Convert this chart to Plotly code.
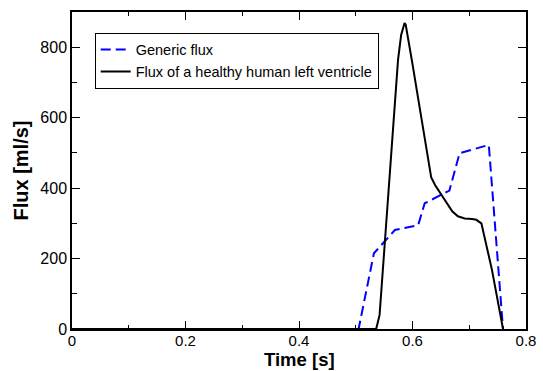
import plotly.graph_objects as go

# Generic flux (blue dashed)
generic_t = [0.0, 0.505, 0.532, 0.569, 0.610, 0.6215, 0.665, 0.683, 0.733, 0.7345, 0.7595]
generic_q = [0, 0, 215, 281, 295, 357, 393, 499, 522, 522, 0]

# Flux of a healthy human left ventricle (black solid)
healthy_t = [0.0, 0.536, 0.542, 0.560, 0.5745, 0.580, 0.584, 0.586, 0.588, 0.592,
             0.600, 0.610, 0.620, 0.633, 0.640, 0.650, 0.660, 0.670, 0.680,
             0.692, 0.705, 0.7125, 0.7214, 0.740, 0.7595]
healthy_q = [0, 0, 40, 440, 764, 835, 862, 869, 864, 830,
             752, 654, 557, 430, 408, 383, 356, 334, 320,
             314, 312, 310, 300, 168, 0]

x_ticks = [0, 0.2, 0.4, 0.6, 0.8]
x_labels = ["0", "0.2", "0.4", "0.6", "0.8"]
y_ticks = [0, 200, 400, 600, 800]
y_labels = ["0", "200", "400", "600", "800"]

FONT = "Liberation Sans, Arial, Helvetica, sans-serif"

fig = go.Figure()
fig.add_trace(go.Scatter(x=generic_t, y=generic_q, mode="lines", name="Generic flux",
                         line=dict(color="#0000ff", width=2, dash="10px,5px")))
fig.add_trace(go.Scatter(x=healthy_t, y=healthy_q, mode="lines",
                         name="Flux of a healthy human left ventricle",
                         line=dict(color="black", width=2)))

axis_common = dict(showline=True, linecolor="black", linewidth=1.5, mirror="allticks",
                   ticks="inside", ticklen=8, tickwidth=1, tickcolor="black",
                   showgrid=False, zeroline=False)

fig.update_xaxes(range=[0, 0.8], tickvals=x_ticks, ticktext=x_labels,
                 tickfont=dict(family=FONT, size=15, color="black"),
                 ticklabelstandoff=-3,
                 minor=dict(dtick=0.1, ticks="inside", ticklen=4, tickcolor="black", tickwidth=1),
                 **axis_common)
fig.update_yaxes(range=[0, 900], tickvals=y_ticks, ticktext=y_labels,
                 tickfont=dict(family=FONT, size=16, color="black"),
                 minor=dict(dtick=100, ticks="inside", ticklen=5, tickcolor="black", tickwidth=1),
                 title=dict(text="<b>Flux [ml/s]</b>", font=dict(family=FONT, size=20, color="black"),
                            standoff=6),
                 **axis_common)

fig.add_annotation(text="<b>Time [s]</b>", xref="paper", yref="paper",
                   x=0.5, y=-0.1325, xanchor="center", yanchor="bottom",
                   borderpad=0, showarrow=False,
                   font=dict(family=FONT, size=18.5, color="black"))

fig.update_layout(
    width=543, height=371,
    margin=dict(l=72, r=17, t=12, b=42, autoexpand=False),
    plot_bgcolor="white", paper_bgcolor="white",
    showlegend=True,
    legend=dict(x=0.05, y=0.935, xanchor="left", yanchor="top",
                bordercolor="black", borderwidth=1, bgcolor="white",
                font=dict(family=FONT, size=14.5, color="black"),
                itemwidth=30, tracegroupgap=0),
)

fig.write_html("out.html")
